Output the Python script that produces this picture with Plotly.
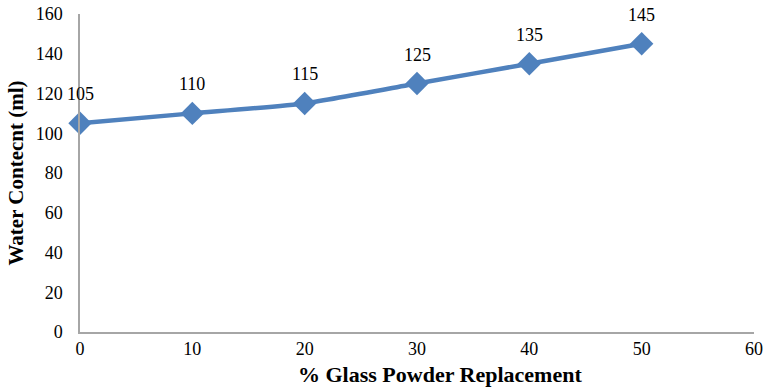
import plotly.graph_objects as go

replacement = [0, 10, 20, 30, 40, 50]
water = [105, 110, 115, 125, 135, 145]
labels = [str(v) for v in water]
x_ticks = [0, 10, 20, 30, 40, 50, 60]
y_ticks = [0, 20, 40, 60, 80, 100, 120, 140, 160]
x_title = "% Glass Powder Replacement"
y_title = "Water Contecnt (ml)"

font_family = "'Liberation Serif', 'Times New Roman', serif"

fig = go.Figure()
fig.add_trace(go.Scatter(
    x=replacement, y=water,
    mode="lines+markers",
    line=dict(color="#4F81BD", width=4.5, shape="spline", smoothing=0.5),
    marker=dict(symbol="diamond", size=18, color="#4F81BD"),
    cliponaxis=False,
))

for xv, yv, lab in zip(replacement, water, labels):
    fig.add_annotation(x=xv, y=yv, text=lab, showarrow=False, yshift=29,
                       font=dict(family=font_family, size=18, color="black"))

fig.add_annotation(xref="paper", yref="paper", x=0.534, y=-0.135,
                   xanchor="center", yanchor="middle", showarrow=False,
                   text="<b>" + x_title + "</b>",
                   font=dict(family=font_family, size=22, color="black"))

fig.update_layout(
    width=767, height=389,
    margin=dict(l=80, r=13, t=14, b=57),
    paper_bgcolor="white", plot_bgcolor="white",
    showlegend=False,
    font=dict(family=font_family, size=18, color="black"),
    xaxis=dict(
        range=[0, 60], tickvals=x_ticks, showgrid=False, zeroline=False,
        showline=True, linecolor="#A6A6A6", linewidth=1.5, ticks="",
        tickfont=dict(size=18), automargin=False,
    ),
    yaxis=dict(
        range=[0, 160], tickvals=y_ticks, showgrid=False, zeroline=False,
        showline=True, linecolor="#A6A6A6", linewidth=1.5, ticks="outside",
        ticklen=12, tickcolor="rgba(0,0,0,0)",
        tickfont=dict(size=18), automargin=False,
        title=dict(text="<b>" + y_title + "</b>", font=dict(size=21), standoff=6),
    ),
)

fig.write_html("out.html")
